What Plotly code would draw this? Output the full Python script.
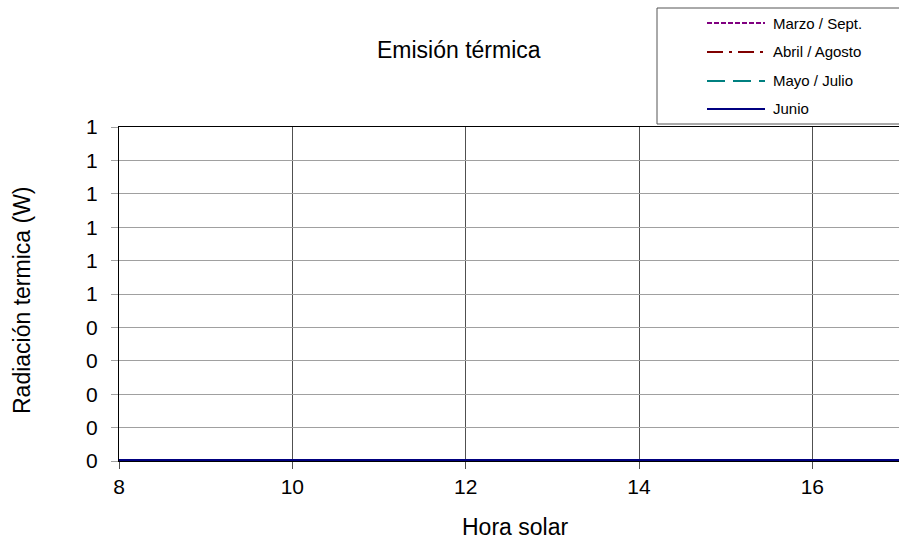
import plotly.graph_objects as go

# Solar hours and thermal emission per month pair (W)
hours = [8, 9, 10, 11, 12, 13, 14, 15, 16, 17]
marzo_sept = [0, 0, 0, 0, 0, 0, 0, 0, 0, 0]
abril_agosto = [0, 0, 0, 0, 0, 0, 0, 0, 0, 0]
mayo_julio = [0, 0, 0, 0, 0, 0, 0, 0, 0, 0]
junio = [0, 0, 0, 0, 0, 0, 0, 0, 0, 0]

series_names = ["Marzo / Sept.", "Abril / Agosto", "Mayo / Julio", "Junio"]
series_values = [marzo_sept, abril_agosto, mayo_julio, junio]
series_colors = ["#800080", "#800000", "#008080", "#000080"]
series_dashes = ["5px,2px", "16px,6px,3px,6px", "18px,8px", "solid"]

x_tick_vals = [8, 10, 12, 14, 16]
x_tick_text = ["8", "10", "12", "14", "16"]
y_tick_vals = [0, 0.1, 0.2, 0.3, 0.4, 0.5, 0.6, 0.7, 0.8, 0.9, 1.0]
y_tick_text = ["0", "0", "0", "0", "0", "1", "1", "1", "1", "1", "1"]

W, H = 899, 540
ML, MR, MT, MB = 119, 0, 127, 79
PW, PH = W - ML - MR, H - MT - MB
FONT = "Liberation Sans, Arial, sans-serif"


def px_x(px):
    return (px - ML) / PW


def px_y(py):
    return (H - MB - py) / PH


fig = go.Figure()
for name, vals, color, dash in zip(series_names, series_values, series_colors, series_dashes):
    fig.add_trace(go.Scatter(
        x=hours, y=vals, name=name, mode="lines",
        line=dict(color=color, width=4, dash=dash),
        showlegend=False,
    ))

shapes = []
annotations = []

# Legend box
shapes.append(dict(type="rect", xref="paper", yref="paper",
                   x0=px_x(657), x1=px_x(905), y0=px_y(124), y1=px_y(8),
                   line=dict(color="#555555", width=1), fillcolor="white", layer="above"))
row_y = [23, 52, 81, 109]
for name, color, dash, ry in zip(series_names, series_colors, series_dashes, row_y):
    shapes.append(dict(type="line", xref="paper", yref="paper",
                       x0=px_x(707), x1=px_x(765), y0=px_y(ry), y1=px_y(ry),
                       line=dict(color=color, width=2, dash=dash), layer="above"))
    annotations.append(dict(text=name, xref="paper", yref="paper",
                            x=px_x(771), y=px_y(ry), xanchor="left", yanchor="middle",
                            showarrow=False, font=dict(family=FONT, size=15, color="black")))

# Chart and axis titles
annotations.append(dict(text="Emisión térmica", xref="paper", yref="paper",
                        x=px_x(459), y=px_y(50), xanchor="center", yanchor="middle",
                        showarrow=False, font=dict(family=FONT, size=23, color="black")))
annotations.append(dict(text="Hora solar", xref="paper", yref="paper",
                        x=px_x(515), y=px_y(527), xanchor="center", yanchor="middle",
                        showarrow=False, font=dict(family=FONT, size=23, color="black")))
annotations.append(dict(text="Radiación termica (W)", xref="paper", yref="paper",
                        x=px_x(22), y=px_y(300), xanchor="center", yanchor="middle",
                        textangle=-90, showarrow=False,
                        font=dict(family=FONT, size=23, color="black")))

fig.update_layout(
    width=W, height=H,
    margin=dict(l=ML, r=MR, t=MT, b=MB, pad=0),
    paper_bgcolor="white", plot_bgcolor="white",
    font=dict(family=FONT, size=21, color="black"),
    shapes=shapes, annotations=annotations,
    xaxis=dict(
        range=[8, 17], tickvals=x_tick_vals, ticktext=x_tick_text,
        showgrid=True, gridcolor="#505050", gridwidth=1,
        showline=True, linecolor="black", linewidth=1, mirror=True,
        ticks="outside", ticklen=7, tickcolor="#505050", tickwidth=1,
        ticklabelstandoff=0, zeroline=False,
        tickfont=dict(family=FONT, size=21, color="black"),
    ),
    yaxis=dict(
        range=[0, 1], tickvals=y_tick_vals, ticktext=y_tick_text,
        showgrid=True, gridcolor="#a0a0a0", gridwidth=1,
        showline=True, linecolor="black", linewidth=1,
        ticks="outside", ticklen=7, tickcolor="#a0a0a0", tickwidth=1,
        ticklabelstandoff=9, zeroline=False,
        tickfont=dict(family=FONT, size=21, color="black"),
    ),
)

fig.write_html("out.html")
